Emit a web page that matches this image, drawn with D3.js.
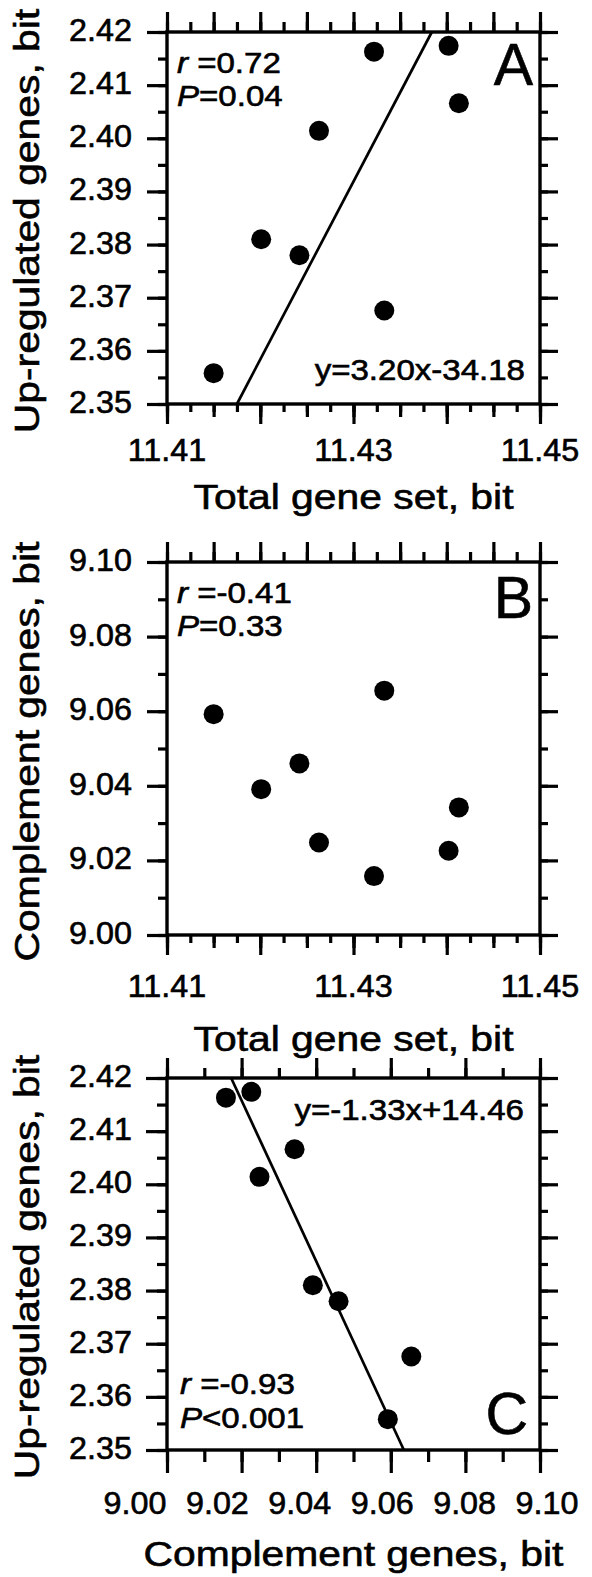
<!DOCTYPE html>
<html>
<head>
<meta charset="utf-8">
<script src="https://cdn.jsdelivr.net/npm/d3@7"></script>
<style>
  body { margin: 0; background: #fff; }
  text { font-family: "Liberation Sans", Arial, sans-serif; fill: #000; stroke: #000; stroke-width: 0.6; }
</style>
</head>
<body>
<div id="chart"></div>
<script>

// values, 8 samples, same order in every panel
let totalSet = [11.4150, 11.4201, 11.4242, 11.4263, 11.4322, 11.4333, 11.4402, 11.4413]
let upRegulated = [2.3558, 2.3810, 2.3780, 2.4014, 2.4163, 2.3676, 2.4174, 2.4066]
let complement = [9.0592, 9.0391, 9.0460, 9.0248, 9.0158, 9.0655, 9.0226, 9.0342]

// drawn fit lines (end points in data units)
let fitA_x = [11.4175, 11.4384]
let fitA_y = [2.35, 2.42]
let fitC_x = [9.0172, 9.0635]
let fitC_y = [2.42, 2.35]

// tick labels
let totalLabels = [11.41, 11.43, 11.45]
let upLabels = [2.35, 2.36, 2.37, 2.38, 2.39, 2.40, 2.41, 2.42]
let complLabels = [9.00, 9.02, 9.04, 9.06, 9.08, 9.10]

let width = 592, height = 1577

let svg = d3.select('#chart').append('svg')
    .attr('width', width)
    .attr('height', height)

let left = 167, right = 540

function addText(g, x, y, txt, size, opt){
    opt = opt || {}
    let t = g.append('text')
        .attr('transform', 'translate(' + x + ',' + y + ') rotate(' + (opt.rot || 0) + ') scale(' + (opt.sx || 1) + ',1)')
        .attr('font-size', size)
        .attr('text-anchor', opt.anchor || 'start')
    if(opt.italic){
        t.append('tspan').attr('font-style', 'italic').text(opt.italic)
    }
    t.append('tspan').text(txt)
    return t
}

function steps(lo, hi, step){
    let n = Math.round((hi - lo) / step)
    return d3.range(n + 1).map(function(i){ return +(lo + i * step).toFixed(5) })
}

function tickAxis(g, axis, values, size){
    g.call(axis.tickValues(values).tickSize(size).tickSizeOuter(0).tickFormat(''))
    g.select('.domain').remove()
    g.selectAll('.tick line')
        .style('stroke', '#000')
        .style('stroke-width', '3.2px')
}

function drawPanel(p){

    let x = d3.scaleLinear().domain(p.xDomain).range([left, right])
    let y = d3.scaleLinear().domain(p.yDomain).range([p.bottom, p.top])

    let g = svg.append('g')

    // ticks: bottom & top
    p.xTicksBottom.forEach(function(t){
        tickAxis(g.append('g').attr('transform', 'translate(0,' + p.bottom + ')'), d3.axisBottom(x), t.values, t.size)
    })
    p.xTicksTop.forEach(function(t){
        tickAxis(g.append('g').attr('transform', 'translate(0,' + p.top + ')'), d3.axisTop(x), t.values, t.size)
    })
    // ticks: left & right
    p.yTicks.forEach(function(t){
        tickAxis(g.append('g').attr('transform', 'translate(' + left + ',0)'), d3.axisLeft(y), t.values, t.sizeL)
        tickAxis(g.append('g').attr('transform', 'translate(' + right + ',0)'), d3.axisRight(y), t.values, t.sizeR)
    })

    // frame
    g.append('rect')
        .attr('x', left)
        .attr('y', p.top)
        .attr('width', right - left)
        .attr('height', p.bottom - p.top)
        .attr('fill', 'none')
        .attr('stroke', '#000')
        .attr('stroke-width', 3.4)

    // y tick labels
    p.yLabels.forEach(function(v){
        addText(g, 132, y(v) + 9, d3.format('.2f')(v), 30.5, {anchor: 'end', sx: 1.06})
    })

    // x tick labels
    let xl = p.xLabelScale ? p.xLabelScale : x
    p.xLabels.forEach(function(v){
        addText(g, xl(v), p.xLabelY, d3.format('.2f')(v), 30.5, {anchor: 'middle', sx: 1.06})
    })

    // axis titles
    addText(g, (left + right) / 2, p.xTitleY, p.xTitle, 35.5, {anchor: 'middle', sx: 1.15})
    addText(g, 39, (p.top + p.bottom) / 2 + 3, p.yTitle, 35.5, {anchor: 'middle', sx: 1.15, rot: -90})

    // fit line
    if(p.fit){
        let pts = p.fit[0].map(function(d, i){ return [p.fit[0][i], p.fit[1][i]] })
        g.append('path')
            .datum(pts)
            .attr('fill', 'none')
            .attr('stroke', '#000')
            .attr('stroke-width', 2.7)
            .attr('d', d3.line().x(function(d){ return x(d[0]) }).y(function(d){ return y(d[1]) }))
    }

    // points
    g.selectAll('.dot')
        .data(p.xs.map(function(d, i){ return [d, p.ys[i]] }))
        .enter()
        .append('circle')
        .attr('cx', function(d){ return x(d[0]) })
        .attr('cy', function(d){ return y(d[1]) })
        .attr('r', 10)
        .attr('fill', '#000')

    // annotations
    p.notes.forEach(function(n){
        addText(g, n.x, n.y, n.text, n.size || 29, {anchor: n.anchor, italic: n.italic, sx: n.sx || 1.14})
    })
}

let abBottom = [
    {values: steps(11.41, 11.45, 0.0025), size: 8},
    {values: steps(11.41, 11.45, 0.005), size: 13},
    {values: steps(11.41, 11.45, 0.01), size: 20}
]
let abTop = [
    {values: steps(11.41, 11.45, 0.0025), size: 10},
    {values: steps(11.41, 11.45, 0.005), size: 20}
]

// A
drawPanel({
    top: 32, bottom: 404,
    xDomain: [11.41, 11.45], yDomain: [2.35, 2.42],
    xs: totalSet, ys: upRegulated,
    xTicksBottom: abBottom, xTicksTop: abTop,
    yTicks: [
        {values: steps(2.35, 2.42, 0.005), sizeL: 9, sizeR: 8},
        {values: steps(2.35, 2.42, 0.01), sizeL: 20, sizeR: 18}
    ],
    yLabels: upLabels, xLabels: totalLabels, xLabelY: 461,
    xTitle: 'Total gene set, bit', xTitleY: 509,
    yTitle: 'Up-regulated genes, bit',
    fit: [fitA_x, fitA_y],
    notes: [
        {x: 177, y: 73, italic: 'r', text: ' =0.72'},
        {x: 177, y: 106, italic: 'P', text: '=0.04'},
        {x: 533, y: 85, text: 'A', size: 59, anchor: 'end', sx: 1},
        {x: 525, y: 380, text: 'y=3.20x-34.18', anchor: 'end'}
    ]
})

// B
drawPanel({
    top: 562, bottom: 935,
    xDomain: [11.41, 11.45], yDomain: [9.00, 9.10],
    xs: totalSet, ys: complement,
    xTicksBottom: abBottom, xTicksTop: abTop,
    yTicks: [
        {values: steps(9.00, 9.10, 0.01), sizeL: 9, sizeR: 8},
        {values: steps(9.00, 9.10, 0.02), sizeL: 20, sizeR: 18}
    ],
    yLabels: complLabels, xLabels: totalLabels, xLabelY: 997,
    xTitle: 'Total gene set, bit', xTitleY: 1051,
    yTitle: 'Complement genes, bit',
    notes: [
        {x: 177, y: 603, italic: 'r', text: ' =-0.41'},
        {x: 177, y: 636, italic: 'P', text: '=0.33'},
        {x: 533, y: 618, text: 'B', size: 59, anchor: 'end', sx: 1}
    ]
})

// C
drawPanel({
    top: 1078, bottom: 1450,
    xDomain: [9.00, 9.10], yDomain: [2.35, 2.42],
    xs: complement, ys: upRegulated,
    xTicksBottom: [
        {values: steps(9.00, 9.10, 0.01), size: 12},
        {values: steps(9.00, 9.10, 0.02), size: 23}
    ],
    xTicksTop: [
        {values: steps(9.00, 9.10, 0.01), size: 10},
        {values: steps(9.00, 9.10, 0.02), size: 20}
    ],
    yTicks: [
        {values: steps(2.35, 2.42, 0.005), sizeL: 10, sizeR: 8},
        {values: steps(2.35, 2.42, 0.01), sizeL: 21, sizeR: 18}
    ],
    yLabels: upLabels, xLabels: complLabels, xLabelY: 1514,
    xLabelScale: d3.scaleLinear().domain([9.00, 9.10]).range([135, 547]),
    xTitle: 'Complement genes, bit', xTitleY: 1566,
    yTitle: 'Up-regulated genes, bit',
    fit: [fitC_x, fitC_y],
    notes: [
        {x: 524, y: 1120, text: 'y=-1.33x+14.46', anchor: 'end'},
        {x: 180, y: 1394, italic: 'r', text: ' =-0.93'},
        {x: 180, y: 1428, italic: 'P', text: '<0.001'},
        {x: 528, y: 1434, text: 'C', size: 59, anchor: 'end', sx: 1}
    ]
})

</script>
</body>
</html>
